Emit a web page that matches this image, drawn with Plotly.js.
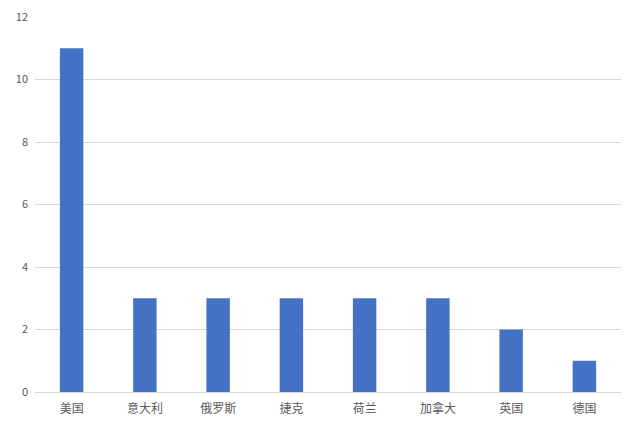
<!DOCTYPE html>
<html>
<head>
<meta charset="utf-8">
<script src="https://cdn.plot.ly/plotly-3.0.1.min.js"></script>
<style>
  body { margin: 0; background: #fff; }
  #chart { width: 640px; height: 422px; }
</style>
</head>
<body>
<div id="chart"></div>
<script>
// Country counts bar chart
const countries = ['美国', '意大利', '俄罗斯', '捷克', '荷兰', '加拿大', '英国', '德国'];
const counts = [11, 3, 3, 3, 3, 3, 2, 1];
const yTicks = [0, 2, 4, 6, 8, 10, 12];

const BAR_COLOR = '#4472C4';
const GRID_COLOR = '#D9D9D9';
const TEXT_COLOR = '#595959';
const FONT = '"Noto Sans CJK SC", "Noto Sans", sans-serif';

const data = [{
  type: 'bar',
  x: countries,
  y: counts,
  marker: { color: BAR_COLOR },
  hoverinfo: 'x+y'
}];

const layout = {
  width: 640,
  height: 422,
  margin: { l: 35, r: 19, t: 17, b: 30 },
  paper_bgcolor: 'white',
  plot_bgcolor: 'white',
  bargap: 0.68,
  showlegend: false,
  font: { family: FONT, color: TEXT_COLOR },
  xaxis: {
    type: 'category',
    showgrid: false,
    showline: true,
    linecolor: GRID_COLOR,
    linewidth: 1,
    ticks: '',
    ticklabelstandoff: 6,
    tickfont: { size: 12, color: TEXT_COLOR, family: FONT }
  },
  yaxis: {
    range: [0, 12],
    tickvals: yTicks,
    ticktext: yTicks.map(String),
    showgrid: true,
    gridcolor: GRID_COLOR,
    gridwidth: 1,
    zeroline: false,
    showline: false,
    ticks: '',
    ticklabelstandoff: 6,
    tickfont: { size: 11, color: TEXT_COLOR, family: FONT }
  }
};

Plotly.newPlot('chart', data, layout, { displayModeBar: false, staticPlot: true });
</script>
</body>
</html>
